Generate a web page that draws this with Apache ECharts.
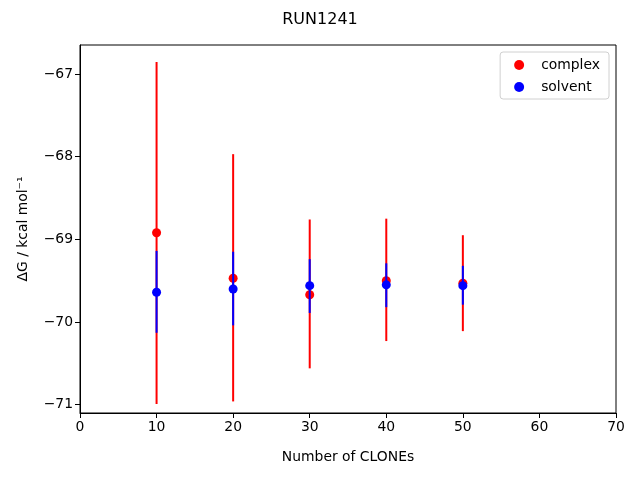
<!DOCTYPE html>
<html>
<head>
<meta charset="utf-8">
<script src="https://cdn.jsdelivr.net/npm/echarts@6/dist/echarts.min.js"></script>
<style>html,body{margin:0;padding:0;background:#fff;}#c{width:640px;height:480px;}</style>
</head>
<body>
<div id="c"></div>
<script>
const clones = [10, 20, 30, 40, 50];
const complexMean = [-68.92, -69.47, -69.67, -69.50, -69.53];
const complexLow  = [-70.99, -70.96, -70.56, -70.23, -70.11];
const complexHigh = [-66.855, -67.97, -68.76, -68.75, -68.95];
const solventMean = [-69.64, -69.60, -69.56, -69.55, -69.56];
const solventLow  = [-70.13, -70.04, -69.89, -69.82, -69.79];
const solventHigh = [-69.14, -69.15, -69.24, -69.29, -69.32];
const yTicks = [-71, -70, -69, -68, -67];
const xTicks = [0, 10, 20, 30, 40, 50, 60, 70];

const FONT = 'DejaVu Sans';
const chart = echarts.init(document.getElementById('c'), null, {renderer: 'canvas'});

function errSeries(name, color, lo, hi, z) {
  return {
    type: 'custom',
    name: name + '_err',
    z: z,
    silent: true,
    data: clones.map((x, i) => [x, lo[i], hi[i]]),
    renderItem: function (params, api) {
      const p1 = api.coord([api.value(0), api.value(1)]);
      const p2 = api.coord([api.value(0), api.value(2)]);
      return {
        type: 'line',
        shape: {x1: p1[0], y1: p1[1], x2: p2[0], y2: p2[1]},
        style: {stroke: color, lineWidth: 2}
      };
    },
    encode: {x: 0, y: [1, 2]}
  };
}

const option = {
  animation: false,
  backgroundColor: '#fff',
  title: {
    text: 'RUN1241', left: 'center', top: 7,
    textStyle: {fontFamily: FONT, fontSize: 16, fontWeight: 'normal', color: '#000'}
  },
  legend: {
    data: [{name: 'complex', icon: 'circle'}, {name: 'solvent', icon: 'circle'}],
    orient: 'vertical',
    right: 31, top: 52,
    itemWidth: 10, itemHeight: 10, itemGap: 8,
    padding: [6, 9, 5, 14],
    borderColor: '#d0d0d0', borderWidth: 1, borderRadius: 3,
    backgroundColor: '#fff',
    textStyle: {fontFamily: FONT, fontSize: 13.9, color: '#000', padding: [0, 0, 0, 12]}
  },
  grid: {left: 80, right: 24, top: 45, bottom: 67, show: true, borderColor: '#000', borderWidth: 1, backgroundColor: 'transparent'},
  xAxis: {
    type: 'value', min: 0, max: 70, interval: 10,
    name: 'Number of CLONEs', nameLocation: 'middle', nameGap: 37,
    nameTextStyle: {fontFamily: FONT, fontSize: 13.9, color: '#000'},
    axisLine: {show: true, onZero: false, lineStyle: {color: '#000', width: 1}},
    axisTick: {show: true, inside: false, length: 5, lineStyle: {color: '#000'}, customValues: xTicks},
    axisLabel: {fontFamily: FONT, fontSize: 13.9, color: '#000', margin: 7, customValues: xTicks},
    splitLine: {show: false}
  },
  yAxis: {
    type: 'value', min: -71.1, max: -66.65,
    name: 'ΔG / kcal mol⁻¹', nameLocation: 'middle', nameGap: 50, nameRotate: 90,
    nameTextStyle: {fontFamily: FONT, fontSize: 13.9, color: '#000'},
    axisLine: {show: true, onZero: false, lineStyle: {color: '#000', width: 1}},
    axisTick: {show: true, inside: false, length: 5, lineStyle: {color: '#000'}, customValues: yTicks},
    axisLabel: {fontFamily: FONT, fontSize: 13.9, color: '#000', margin: 7, customValues: yTicks,
      formatter: v => String(v).replace('-', '\u2212')},
    splitLine: {show: false}
  },
  series: [
    errSeries('complex', '#ff0000', complexLow, complexHigh, 1),
    {
      type: 'scatter', name: 'complex', z: 2,
      symbol: 'circle', symbolSize: 9,
      itemStyle: {color: '#ff0000', opacity: 1},
      data: clones.map((x, i) => [x, complexMean[i]])
    },
    errSeries('solvent', '#0000ff', solventLow, solventHigh, 3),
    {
      type: 'scatter', name: 'solvent', z: 4,
      symbol: 'circle', symbolSize: 9,
      itemStyle: {color: '#0000ff', opacity: 1},
      data: clones.map((x, i) => [x, solventMean[i]])
    }
  ]
};
chart.setOption(option);
</script>
</body>
</html>
